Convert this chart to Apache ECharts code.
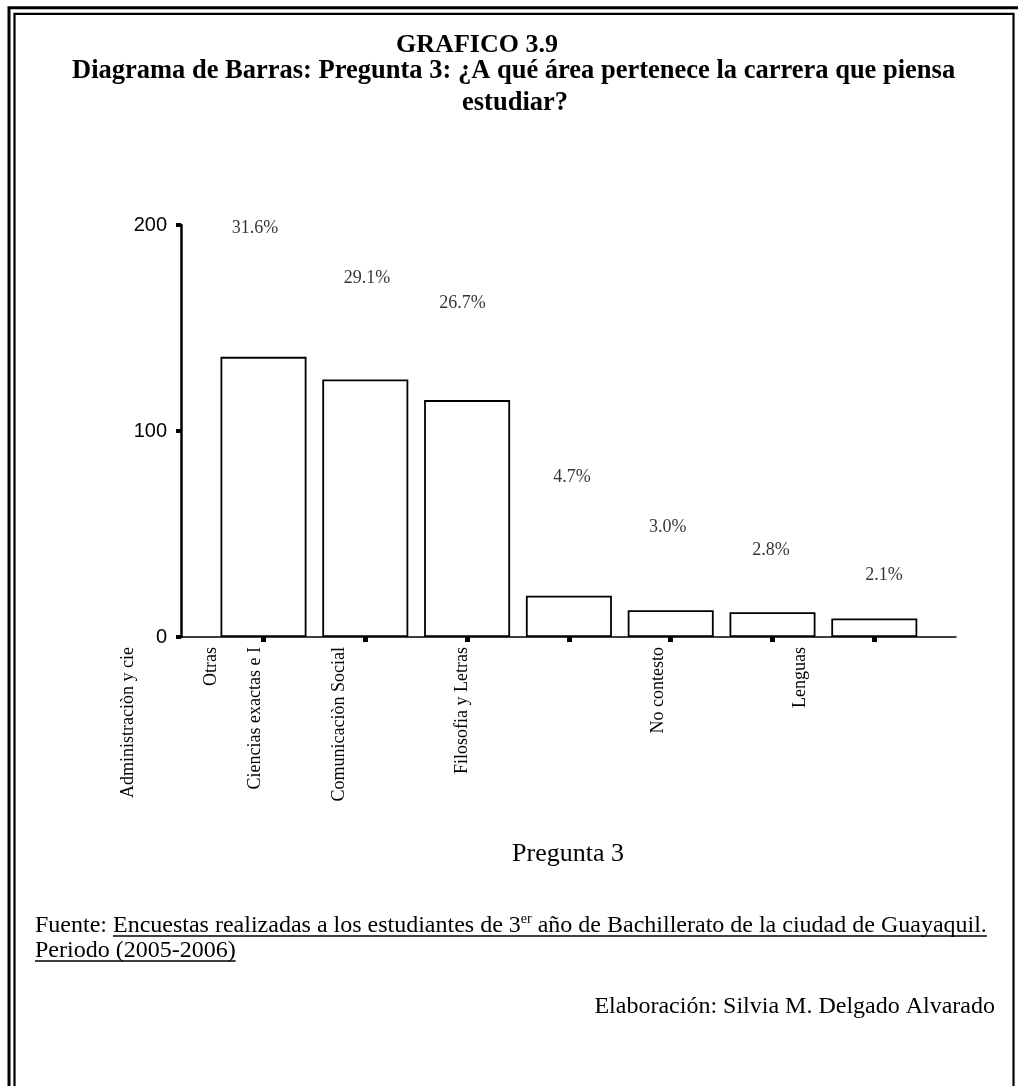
<!DOCTYPE html>
<html>
<head>
<meta charset="utf-8">
<script src="https://cdn.jsdelivr.net/npm/echarts@6/dist/echarts.min.js"></script>
<style>
html,body{margin:0;padding:0;background:#fff;}
#chart{width:1018px;height:1086px;}
</style>
</head>
<body>
<div id="chart"></div>
<script>
// ---------- data ----------
const categories = ['Administraciòn y cie', 'Otras', 'Ciencias exactas e I', 'Comunicaciòn Social', 'Filosofia y Letras', 'No contesto', 'Lenguas'];
const values = [136, 125, 115, 20, 13, 12, 9];
const pctLabels = ['31.6%', '29.1%', '26.7%', '4.7%', '3.0%', '2.8%', '2.1%'];
const yTicks = [0, 100, 200];

// ---------- layout (positions in axis units; not data) ----------
const pctLabelAt = [[-0.083, 198.5], [1.017, 174.3], [1.955, 162.1], [3.03, 77.7], [3.97, 53.4], [4.985, 42.2], [6.095, 30.1]];
const catLabelAt = [-1.331, -0.511, -0.085, 0.742, 1.955, 3.875, 5.27];

const W = 1018, H = 1086;
const X0 = 263.5, STEP = 101.8;          // pixel centre of first bar, category step
const AX_LEFT = 181, AX_RIGHT = 956, AX_TOP = 225, AX_BOTTOM = 637;

const chart = echarts.init(document.getElementById('chart'), null, {renderer: 'canvas'});

const SERIF = '"Liberation Serif", "Times New Roman", serif';
const SANS = '"Liberation Sans", Arial, sans-serif';

const option = {
  animation: false,
  backgroundColor: '#fff',
  grid: [
    {left: AX_LEFT, right: W - AX_RIGHT, top: AX_TOP, bottom: H - AX_BOTTOM},
    {left: X0 - STEP / 2, right: W - (X0 + STEP * (categories.length - 0.5)), top: AX_TOP, bottom: H - AX_BOTTOM}
  ],
  xAxis: [
    {
      gridIndex: 0, type: 'value',
      min: (AX_LEFT - X0) / STEP, max: (AX_RIGHT - X0) / STEP,
      axisLine: {show: true, onZero: false, lineStyle: {color: '#000', width: 1.5}},
      axisTick: {show: false}, axisLabel: {show: false}, splitLine: {show: false}
    },
    {
      gridIndex: 1, type: 'category', data: categories,
      axisLine: {show: false, onZero: false},
      axisTick: {show: true, alignWithLabel: true, interval: 0, length: 5, lineStyle: {color: '#000', width: 5}},
      axisLabel: {show: false, interval: 0}, splitLine: {show: false}
    }
  ],
  yAxis: [
    {
      gridIndex: 0, type: 'value', min: yTicks[0], max: yTicks[yTicks.length - 1], interval: yTicks[1] - yTicks[0],
      axisLine: {show: true, onZero: false, lineStyle: {color: '#000', width: 2.5}},
      axisTick: {show: true, length: 5, lineStyle: {color: '#000', width: 4}},
      axisLabel: {color: '#000', fontFamily: SANS, fontSize: 20, margin: 14},
      splitLine: {show: false}
    },
    {gridIndex: 1, type: 'value', min: yTicks[0], max: yTicks[yTicks.length - 1], show: false, splitLine: {show: false}}
  ],
  series: [
    {
      type: 'bar', xAxisIndex: 1, yAxisIndex: 1, data: values, barWidth: 86,
      itemStyle: {color: '#fff', borderColor: '#000', borderWidth: 1.8},
      silent: true
    },
    {
      type: 'scatter', xAxisIndex: 0, yAxisIndex: 0, clip: false, silent: true,
      data: pctLabels.map((t, i) => ({value: pctLabelAt[i], name: t})),
      symbolSize: 1, itemStyle: {color: 'rgba(0,0,0,0)'},
      label: {show: true, position: 'inside', formatter: p => p.name, color: '#000', fontFamily: SERIF, fontSize: 18}
    }
  ]
};
chart.setOption(option);

// ---------- text helpers ----------
const mctx = document.createElement('canvas').getContext('2d');
function tw(font, s) { mctx.font = font; return mctx.measureText(s).width; }
function txt(x, baseline, s, size, opts) {
  opts = opts || {};
  const weight = opts.bold ? 'bold ' : '';
  return {
    type: 'text', x: x, y: baseline - size * 0.30,
    style: {text: s, font: weight + size + 'px ' + SERIF, fill: '#000', align: opts.align || 'left', verticalAlign: 'middle'}
  };
}

const g = [];
// frame (double border)
g.push({type: 'rect', shape: {x: 9, y: 7.7, width: 1012, height: 1200}, style: {fill: 'none', stroke: '#000', lineWidth: 3}});
g.push({type: 'rect', shape: {x: 14.5, y: 13.8, width: 999, height: 1200}, style: {fill: 'none', stroke: '#000', lineWidth: 2.2}});

// titles
g.push(txt(477, 53, 'GRAFICO 3.9', 26, {bold: true, align: 'center'}));
g.push(txt(72, 79.5, 'Diagrama de Barras: Pregunta 3: ¿A qué área pertenece la carrera que piensa', 26.5, {bold: true}));
g.push(txt(515, 111, 'estudiar?', 26.5, {bold: true, align: 'center'}));

// axis name
g.push(txt(568, 862, 'Pregunta 3', 26, {align: 'center'}));

// source lines
const FSZ = 24, F = FSZ + 'px ' + SERIF, FSUP = '14px ' + SERIF;
const b1 = 933, b2 = 958;
let x = 35;
const sA = 'Fuente: ', sB = 'Encuestas realizadas a los estudiantes de 3', sC = 'er', sD = ' año de Bachillerato de la ciudad de Guayaquil.';
g.push(txt(x, b1, sA, FSZ)); x += tw(F, sA);
const ulStart = x;
g.push(txt(x, b1, sB, FSZ)); x += tw(F, sB);
g.push(txt(x, b1 - 9, sC, 14)); x += tw(FSUP, sC);
g.push(txt(x, b1, sD, FSZ)); x += tw(F, sD);
g.push({type: 'line', shape: {x1: ulStart, y1: b1 + 3, x2: x, y2: b1 + 3}, style: {stroke: '#000', lineWidth: 1.5}});
const sP = 'Periodo (2005-2006)';
g.push(txt(35, b2, sP, FSZ));
g.push({type: 'line', shape: {x1: 35, y1: b2 + 3, x2: 35 + tw(F, sP), y2: b2 + 3}, style: {stroke: '#000', lineWidth: 1.5}});

g.push(txt(995, 1014, 'Elaboración: Silvia M. Delgado Alvarado', FSZ, {align: 'right'}));

// category labels (rotated) placed through the axis scale
categories.forEach((name, i) => {
  const p = chart.convertToPixel({gridIndex: 0}, [catLabelAt[i], 0]);
  g.push({
    type: 'text', x: p[0], y: p[1] + 10, rotation: Math.PI / 2,
    style: {text: name, font: '18px ' + SERIF, fill: '#000', align: 'right', verticalAlign: 'middle'}
  });
});

chart.setOption({graphic: {elements: g}});
</script>
</body>
</html>
